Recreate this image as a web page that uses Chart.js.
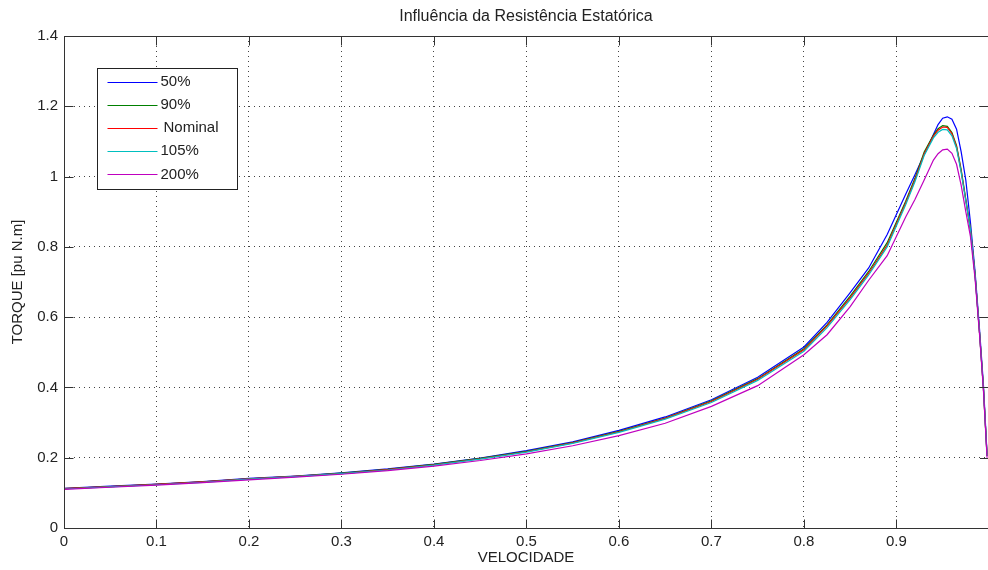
<!DOCTYPE html>
<html>
<head>
<meta charset="utf-8">
<script src="https://cdn.jsdelivr.net/npm/chart.js@4"></script>
<style>
html, body { margin: 0; padding: 0; background: #fff; }
</style>
</head>
<body>
<canvas id="grafica" width="988" height="570"></canvas>
<script>
// velocidade (pu) e torque de cada curva
const velocidade = [0, 0.05, 0.1, 0.15, 0.2, 0.25, 0.3, 0.35, 0.4, 0.45,
    0.5, 0.55, 0.6, 0.65, 0.7, 0.75, 0.8, 0.825, 0.85, 0.87,
    0.89, 0.91, 0.92, 0.93, 0.94, 0.945, 0.95, 0.955, 0.96, 0.965,
    0.97, 0.975, 0.98, 0.985, 0.99, 0.994, 0.998];

const torque50 = [0.113, 0.119, 0.125, 0.132, 0.141, 0.148, 0.157, 0.168, 0.182, 0.199,
    0.220, 0.245, 0.278, 0.316, 0.365, 0.429, 0.515, 0.585, 0.670, 0.740,
    0.835, 0.950, 1.005, 1.063, 1.120, 1.148, 1.166, 1.170, 1.163, 1.135,
    1.070, 0.990, 0.870, 0.730, 0.560, 0.410, 0.210];

const torque90 = [0.112, 0.118, 0.124, 0.131, 0.140, 0.147, 0.156, 0.167, 0.181, 0.198,
    0.218, 0.243, 0.275, 0.313, 0.362, 0.425, 0.510, 0.578, 0.660, 0.730,
    0.812, 0.930, 0.995, 1.070, 1.118, 1.136, 1.145, 1.143, 1.125, 1.088,
    1.020, 0.935, 0.850, 0.720, 0.550, 0.400, 0.205];

const torqueNominal = [0.112, 0.118, 0.124, 0.131, 0.140, 0.147, 0.155, 0.166, 0.180, 0.197,
    0.217, 0.242, 0.274, 0.312, 0.360, 0.423, 0.507, 0.575, 0.655, 0.725,
    0.805, 0.925, 0.990, 1.065, 1.115, 1.132, 1.141, 1.140, 1.122, 1.085,
    1.015, 0.933, 0.850, 0.720, 0.550, 0.400, 0.205];

const torque105 = [0.111, 0.117, 0.123, 0.130, 0.139, 0.146, 0.155, 0.165, 0.179, 0.196,
    0.216, 0.241, 0.272, 0.310, 0.357, 0.420, 0.503, 0.570, 0.650, 0.720,
    0.800, 0.920, 0.985, 1.060, 1.110, 1.126, 1.134, 1.133, 1.116, 1.080,
    1.012, 0.930, 0.850, 0.720, 0.550, 0.400, 0.205];

const torque200 = [0.110, 0.116, 0.122, 0.129, 0.137, 0.145, 0.153, 0.163, 0.176, 0.192,
    0.211, 0.234, 0.263, 0.298, 0.346, 0.405, 0.493, 0.550, 0.630, 0.705,
    0.775, 0.885, 0.935, 0.990, 1.047, 1.065, 1.076, 1.078, 1.066, 1.035,
    0.975, 0.900, 0.830, 0.710, 0.545, 0.395, 0.200];

const xTicks = [0, 0.1, 0.2, 0.3, 0.4, 0.5, 0.6, 0.7, 0.8, 0.9];
const yTicks = [0, 0.2, 0.4, 0.6, 0.8, 1, 1.2, 1.4];

const fonte = "'Liberation Sans', Arial, sans-serif";
Chart.defaults.font.family = fonte;
Chart.defaults.color = '#222';

const pontos = (ys) => velocidade.map((v, i) => ({ x: v, y: ys[i] }));

const curva = (label, ys, cor, ordem) => ({
    label: label,
    data: pontos(ys),
    borderColor: cor,
    borderWidth: 1.2,
    pointRadius: 0,
    fill: false,
    tension: 0,
    order: ordem
});

const datasets = [
    curva('50%', torque50, '#0000ff', 5),
    curva('90%', torque90, '#008000', 4),
    curva('Nominal', torqueNominal, '#ff0000', 3),
    curva('105%', torque105, '#00bfbf', 2),
    curva('200%', torque200, '#bf00bf', 1)
];

const px = (v) => Math.round(v) + 0.5;

// moldura, marcas internas e legenda no estilo do MATLAB
const eixosMatlab = {
    id: 'eixosMatlab',
    afterDraw(chart) {
        const { ctx, chartArea: a, scales: { x, y } } = chart;
        const tam = 9;
        ctx.save();
        ctx.strokeStyle = '#333';
        ctx.lineWidth = 1;
        ctx.beginPath();
        ctx.moveTo(a.right, px(a.top));
        ctx.lineTo(px(a.left), px(a.top));
        ctx.lineTo(px(a.left), px(a.bottom));
        ctx.lineTo(a.right, px(a.bottom));
        xTicks.forEach(v => {
            const p = px(x.getPixelForValue(v));
            ctx.moveTo(p, px(a.bottom));
            ctx.lineTo(p, px(a.bottom) - tam);
            ctx.moveTo(p, px(a.top));
            ctx.lineTo(p, px(a.top) + tam);
        });
        yTicks.forEach(v => {
            const p = px(y.getPixelForValue(v));
            ctx.moveTo(px(a.left), p);
            ctx.lineTo(px(a.left) + tam, p);
            ctx.moveTo(a.right + 1, p);
            ctx.lineTo(a.right + 1 - tam, p);
        });
        ctx.stroke();

        // legenda
        const bx = px(a.left + 33), by = px(a.top + 32), bw = 140, bh = 121;
        ctx.fillStyle = '#fff';
        ctx.fillRect(bx, by, bw, bh);
        ctx.strokeStyle = '#222';
        ctx.strokeRect(bx, by, bw, bh);
        ctx.font = '15px ' + fonte;
        ctx.textBaseline = 'middle';
        ctx.textAlign = 'left';
        chart.data.datasets.forEach((ds, i) => {
            const ly = by + 13.5 + i * 23.1;
            ctx.strokeStyle = ds.borderColor;
            ctx.lineWidth = 1.2;
            ctx.beginPath();
            ctx.moveTo(bx + 10, px(ly));
            ctx.lineTo(bx + 60, px(ly));
            ctx.stroke();
            ctx.fillStyle = '#222';
            ctx.fillText(ds.label, bx + (ds.label === 'Nominal' ? 66 : 63), ly);
        });
        ctx.restore();
    }
};

const config = {
    type: 'line',
    data: { datasets: datasets },
    options: {
        responsive: false,
        animation: false,
        devicePixelRatio: 1,
        layout: { padding: 0 },
        plugins: {
            legend: { display: false },
            tooltip: { enabled: false },
            title: {
                display: true,
                fullSize: false,
                text: 'Influência da Resistência Estatórica',
                color: '#222',
                font: { size: 16, weight: 'normal', lineHeight: '20px' },
                padding: { top: 7, bottom: 9 }
            }
        },
        scales: {
            x: {
                type: 'linear',
                min: 0,
                max: 0.999,
                afterFit: (s) => { s.height = 42; },
                afterBuildTicks: (s) => { s.ticks = xTicks.map(v => ({ value: v })); },
                ticks: {
                    padding: 5,
                    maxRotation: 0,
                    font: { size: 15, lineHeight: '18px' },
                    callback: (v) => String(v)
                },
                grid: { color: '#444', lineWidth: 1, drawTicks: false },
                border: { display: false, dash: [1, 4] },
                title: {
                    display: true,
                    text: 'VELOCIDADE',
                    font: { size: 15, lineHeight: '18px' },
                    padding: { top: 0, bottom: 3 }
                }
            },
            y: {
                type: 'linear',
                min: 0,
                max: 1.4,
                afterFit: (s) => { s.width = 64; },
                afterBuildTicks: (s) => { s.ticks = yTicks.map(v => ({ value: v })); },
                ticks: {
                    padding: 6,
                    font: { size: 15, lineHeight: '18px' },
                    callback: (v) => String(v)
                },
                grid: { color: '#444', lineWidth: 1, drawTicks: false },
                border: { display: false, dash: [1, 4] },
                title: {
                    display: true,
                    text: 'TORQUE [pu N.m]',
                    font: { size: 15, lineHeight: '18px' },
                    padding: { top: 9, bottom: 0 }
                }
            }
        }
    },
    plugins: [eixosMatlab]
};

const $graph = document.getElementById('grafica');
if ($graph) {
    new Chart($graph, config);
} else {
    console.error('Elemento do gráfico não encontrado');
}
</script>
</body>
</html>
